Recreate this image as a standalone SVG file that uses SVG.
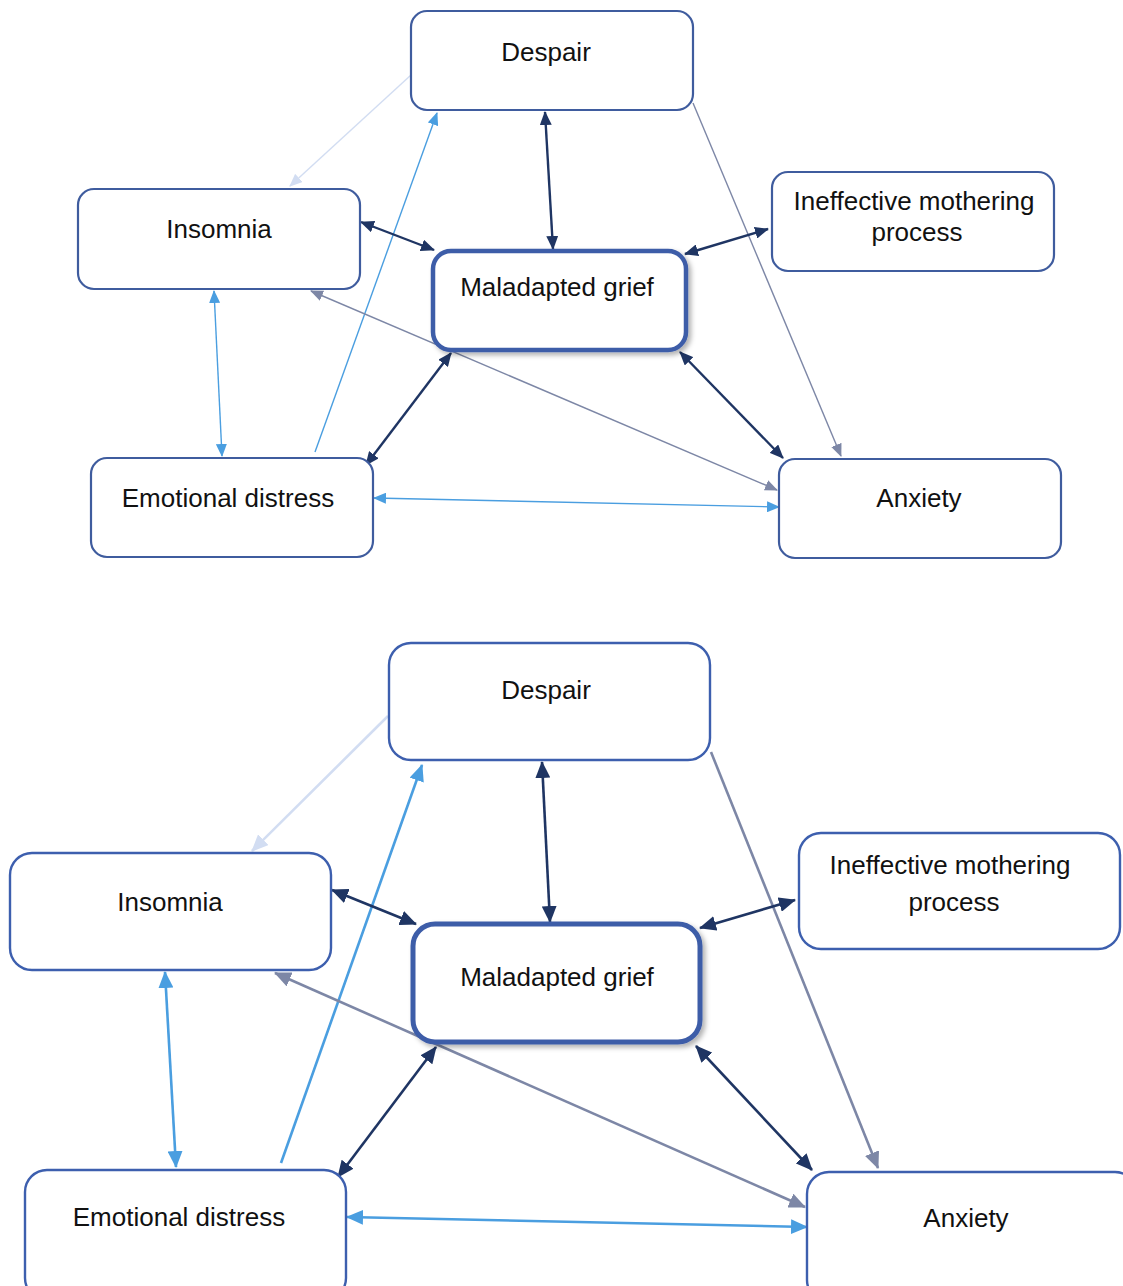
<svg xmlns="http://www.w3.org/2000/svg" width="1123" height="1286" viewBox="0 0 1123 1286">
<style>
.box{fill:#fff;stroke:#3f5c9e;stroke-width:2.2}
.boxb{fill:#fff;stroke:#3d5fae;stroke-width:2.4}
.main{fill:#fff;stroke:#3e5da8;stroke-width:4.5}
.mainb{fill:#fff;stroke:#3e5da8;stroke-width:5}
text{font-family:"Liberation Sans",Arial,sans-serif;font-size:26px;fill:#111;text-anchor:middle}
.c{fill:none}
.navy{stroke:#1f3563}
.blue{stroke:#4a9ee0}
.gray{stroke:#7d87a6}
.pale{stroke:#d2ddf2}
.t{stroke-width:2.4}
.tl{stroke-width:1.4}
.b{stroke-width:2.6}
</style>
<defs>
<filter id="sh" x="-10%" y="-10%" width="125%" height="130%">
<feDropShadow dx="3" dy="3" stdDeviation="2.5" flood-color="#000" flood-opacity="0.3"/>
</filter>
<marker id="nT" markerUnits="userSpaceOnUse" markerWidth="14" markerHeight="12" refX="13" refY="6" orient="auto-start-reverse"><path d="M0,0 L14,6 L0,12 z" fill="#1f3563"/></marker>
<marker id="bT" markerUnits="userSpaceOnUse" markerWidth="13" markerHeight="11" refX="12" refY="5.5" orient="auto-start-reverse"><path d="M0,0 L13,5.5 L0,11 z" fill="#4a9ee0"/></marker>
<marker id="gT" markerUnits="userSpaceOnUse" markerWidth="13" markerHeight="11" refX="12" refY="5.5" orient="auto-start-reverse"><path d="M0,0 L13,5.5 L0,11 z" fill="#7d87a6"/></marker>
<marker id="pT" markerUnits="userSpaceOnUse" markerWidth="13" markerHeight="11" refX="12" refY="5.5" orient="auto-start-reverse"><path d="M0,0 L13,5.5 L0,11 z" fill="#d2ddf2"/></marker>
<marker id="nB" markerUnits="userSpaceOnUse" markerWidth="17" markerHeight="15" refX="16" refY="7.5" orient="auto-start-reverse"><path d="M0,0 L17,7.5 L0,15 z" fill="#1f3563"/></marker>
<marker id="bB" markerUnits="userSpaceOnUse" markerWidth="17" markerHeight="15" refX="16" refY="7.5" orient="auto-start-reverse"><path d="M0,0 L17,7.5 L0,15 z" fill="#4a9ee0"/></marker>
<marker id="gB" markerUnits="userSpaceOnUse" markerWidth="17" markerHeight="15" refX="16" refY="7.5" orient="auto-start-reverse"><path d="M0,0 L17,7.5 L0,15 z" fill="#7d87a6"/></marker>
<marker id="pB" markerUnits="userSpaceOnUse" markerWidth="17" markerHeight="15" refX="16" refY="7.5" orient="auto-start-reverse"><path d="M0,0 L17,7.5 L0,15 z" fill="#d2ddf2"/></marker>
</defs>
<rect width="1123" height="1286" fill="#fff"/>

<g id="connectors-top">
<line class="c pale tl" x1="411" y1="75" x2="290" y2="186" marker-end="url(#pT)"/>
<line class="c blue tl" x1="315" y1="452" x2="437" y2="113" marker-end="url(#bT)"/>
<line class="c gray tl" x1="693" y1="103" x2="841" y2="456" marker-end="url(#gT)"/>
<line class="c gray tl" x1="311" y1="291" x2="777" y2="490" marker-start="url(#gT)" marker-end="url(#gT)"/>
<line class="c blue tl" x1="214" y1="291" x2="222" y2="456" marker-start="url(#bT)" marker-end="url(#bT)"/>
<line class="c blue tl" x1="374" y1="498" x2="779" y2="507" marker-start="url(#bT)" marker-end="url(#bT)"/>
<line class="c navy t" x1="545" y1="112" x2="553" y2="249" marker-start="url(#nT)" marker-end="url(#nT)"/>
<line class="c navy t" x1="361" y1="222" x2="434" y2="250" marker-start="url(#nT)" marker-end="url(#nT)"/>
<line class="c navy t" x1="685" y1="254" x2="768" y2="229" marker-start="url(#nT)" marker-end="url(#nT)"/>
<line class="c navy t" x1="451" y1="353" x2="366" y2="465" marker-start="url(#nT)" marker-end="url(#nT)"/>
<line class="c navy t" x1="680" y1="352" x2="783" y2="458" marker-start="url(#nT)" marker-end="url(#nT)"/>
</g>

<g id="top-despair"><rect class="box" x="411" y="11" width="282" height="99" rx="16"/><text x="546" y="61">Despair</text></g>
<g id="top-insomnia"><rect class="box" x="78" y="189" width="282" height="100" rx="16"/><text x="219" y="238">Insomnia</text></g>
<g id="top-maladapted"><rect class="main" x="433" y="251" width="253" height="99" rx="18" filter="url(#sh)"/><text x="557" y="296">Maladapted grief</text></g>
<g id="top-ineffective"><rect class="box" x="772" y="172" width="282" height="99" rx="16"/><text x="914" y="210">Ineffective mothering</text><text x="917" y="241">process</text></g>
<g id="top-emotional"><rect class="box" x="91" y="458" width="282" height="99" rx="16"/><text x="228" y="507">Emotional distress</text></g>
<g id="top-anxiety"><rect class="box" x="779" y="459" width="282" height="99" rx="16"/><text x="919" y="507">Anxiety</text></g>

<g id="connectors-bottom">
<line class="c pale b" x1="388" y1="716" x2="252" y2="851" marker-end="url(#pB)"/>
<line class="c blue b" x1="281" y1="1163" x2="422" y2="765" marker-end="url(#bB)"/>
<line class="c gray b" x1="711" y1="752" x2="878" y2="1168" marker-end="url(#gB)"/>
<line class="c gray b" x1="275" y1="973" x2="805" y2="1207" marker-start="url(#gB)" marker-end="url(#gB)"/>
<line class="c blue b" x1="165" y1="972" x2="176" y2="1167" marker-start="url(#bB)" marker-end="url(#bB)"/>
<line class="c blue b" x1="347" y1="1217" x2="807" y2="1227" marker-start="url(#bB)" marker-end="url(#bB)"/>
<line class="c navy b" x1="542" y1="762" x2="550" y2="922" marker-start="url(#nB)" marker-end="url(#nB)"/>
<line class="c navy b" x1="332" y1="890" x2="416" y2="924" marker-start="url(#nB)" marker-end="url(#nB)"/>
<line class="c navy b" x1="700" y1="928" x2="795" y2="900" marker-start="url(#nB)" marker-end="url(#nB)"/>
<line class="c navy b" x1="436" y1="1047" x2="338" y2="1177" marker-start="url(#nB)" marker-end="url(#nB)"/>
<line class="c navy b" x1="696" y1="1046" x2="812" y2="1170" marker-start="url(#nB)" marker-end="url(#nB)"/>
</g>

<g id="bottom-despair"><rect class="boxb" x="389" y="643" width="321" height="117" rx="22"/><text x="546" y="699">Despair</text></g>
<g id="bottom-insomnia"><rect class="boxb" x="10" y="853" width="321" height="117" rx="22"/><text x="170" y="911">Insomnia</text></g>
<g id="bottom-maladapted"><rect class="mainb" x="413" y="924" width="287" height="118" rx="22" filter="url(#sh)"/><text x="557" y="986">Maladapted grief</text></g>
<g id="bottom-ineffective"><rect class="boxb" x="799" y="833" width="321" height="116" rx="22"/><text x="950" y="874">Ineffective mothering</text><text x="954" y="911">process</text></g>
<g id="bottom-emotional"><rect class="boxb" x="25" y="1170" width="321" height="130" rx="22"/><text x="179" y="1226">Emotional distress</text></g>
<g id="bottom-anxiety"><rect class="boxb" x="807" y="1172" width="330" height="130" rx="22"/><text x="966" y="1227">Anxiety</text></g>
</svg>
